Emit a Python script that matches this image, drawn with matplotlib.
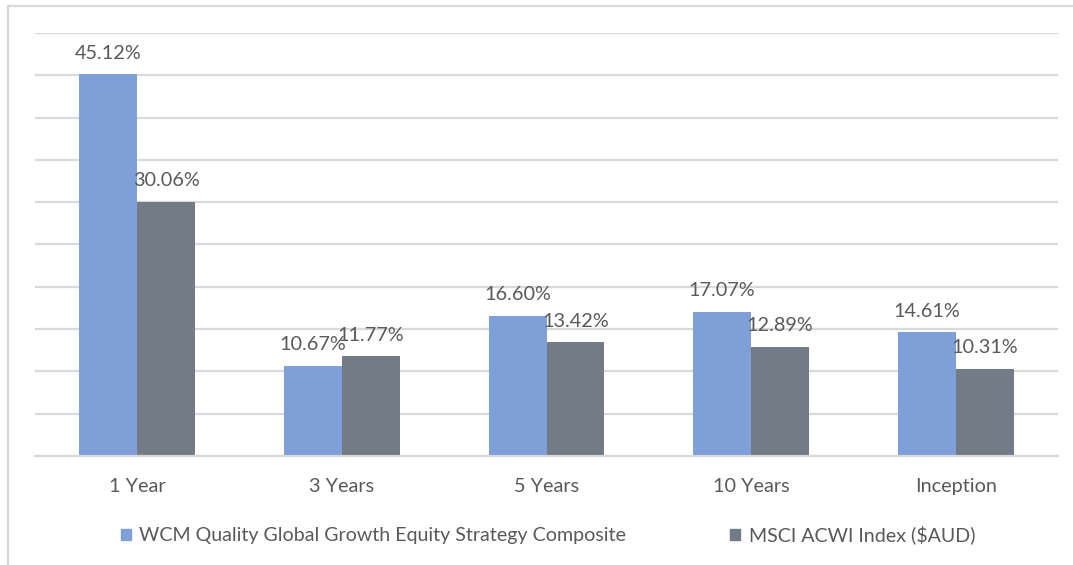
import matplotlib
matplotlib.use('Agg')
import matplotlib.pyplot as plt
import numpy as np
from matplotlib.lines import Line2D
from matplotlib.patches import Patch

# data
categories = ['1 Year', '3 Years', '5 Years', '10 Years', 'Inception']
wcm = [45.12, 10.67, 16.60, 17.07, 14.61]
msci = [30.06, 11.77, 13.42, 12.89, 10.31]
series_names = ['WCM Quality Global Growth Equity Strategy Composite', 'MSCI ACWI Index ($AUD)']

blue = '#7F9FD8'
gray = '#737B86'
txt = '#595959'
grid = '#D9D9D9'

plt.rcParams['font.family'] = ['Lato', 'DejaVu Sans']
fs = 14.3

fig = plt.figure(figsize=(10.73, 5.65), dpi=100)
ax = fig.add_axes([35/1073, 1-456/565, (1058-35)/1073, (456-33)/565])

x = np.arange(len(categories))
w = 0.283
b1 = ax.bar(x - w/2, wcm, w, color=blue, zorder=2)
b2 = ax.bar(x + w/2, msci, w, color=gray, zorder=2)

for bars, vals in [(b1, wcm), (b2, msci)]:
    for r, v in zip(bars, vals):
        ax.annotate(f'{v:.2f}%', (r.get_x() + r.get_width()/2, v), xytext=(0, 9),
                    textcoords='offset points', ha='center', va='bottom',
                    fontsize=fs, color=txt)

ax.set_xlim(-0.5, len(categories) - 0.5)
ax.set_ylim(0, 50)
ax.set_yticks(np.arange(0, 51, 5))
ax.yaxis.grid(True, color=grid, linewidth=1.6, zorder=0)
ax.set_axisbelow(True)
ax.tick_params(axis='y', left=False, labelleft=False)
ax.tick_params(axis='x', length=0, pad=16, labelsize=fs, labelcolor=txt)
ax.set_xticks(x)
ax.set_xticklabels(categories)
for s in ['top', 'right', 'left']:
    ax.spines[s].set_visible(False)
ax.spines['bottom'].set_color(grid)
ax.spines['bottom'].set_linewidth(1.6)

handles = [Patch(color=blue), Patch(color=gray)]
fig.legend(handles, series_names, loc='center', bbox_to_anchor=(548/1073, 1-535/565),
           ncol=2, frameon=False, fontsize=14.1, labelcolor=txt,
           handlelength=0.5, handleheight=0.5, handletextpad=0.45, columnspacing=5.3)

# chart border (only left and top visible in the crop)
fig.add_artist(Line2D([8/1073, 8/1073], [0, 1-6/565], color=grid, linewidth=1.6, transform=fig.transFigure))
fig.add_artist(Line2D([8/1073, 1], [1-6/565, 1-6/565], color=grid, linewidth=1.6, transform=fig.transFigure))

fig.savefig('out.png', dpi=100)
